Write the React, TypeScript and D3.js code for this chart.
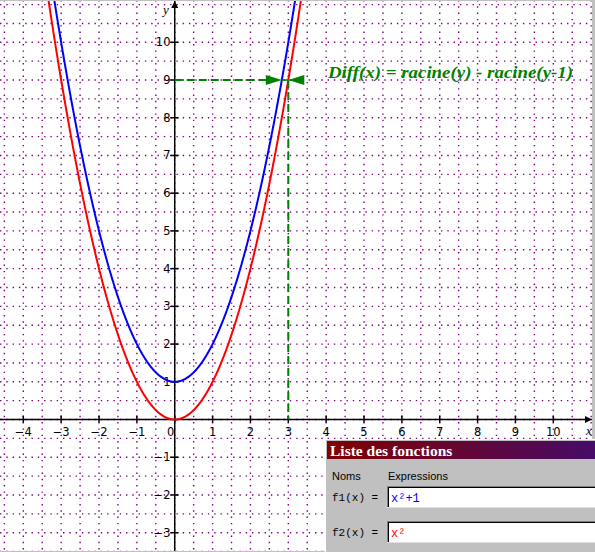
import React from "react";
import * as d3 from "d3";

const W = 595;
const H = 552;

const xTicks = [-4, -3, -2, -1, 0, 1, 2, 3, 4, 5, 6, 7, 8, 9, 10];
const yTicks = [-3, -2, -1, 1, 2, 3, 4, 5, 6, 7, 8, 9, 10];
const functionNames = ["f1(x) =", "f2(x) ="];
const functionExprs = ["x²+1", "x²"];
const functionColors = ["#0000ff", "#ff0000"];
const functionOffsets = [1, 0]; // f(x) = x² + offset
const markY = 9;
const annotation = "Diff(x) = racine(y) - racine(y-1)";

export default function App() {
  const x = d3.scaleLinear().domain([-4, 10]).range([23.3, 553.3]);
  const y = d3.scaleLinear().domain([-3, 10]).range([532.7, 42.3]);
  const x0 = x(0);
  const y0 = y(0);

  const gridX = d3.range(-4.5, 11.01, 0.5);
  const gridY = d3.range(-3.5, 11.01, 0.5);

  const samples = d3.range(-3.6, 3.6001, 0.01);
  const line = d3
    .line<[number, number]>()
    .x((d) => x(d[0]))
    .y((d) => y(d[1]));

  const xLeft = x(Math.sqrt(markY - 1));
  const xRight = x(Math.sqrt(markY));
  const yMark = y(markY);

  const panelX = 325;
  const panelY = 439;

  return (
    <svg
      width={W}
      height={H}
      style={{ position: "absolute", left: 0, top: 0, background: "#fff" }}
      fontFamily="DejaVu Sans"
    >
      <defs>
        <linearGradient id="title" x1="0" x2="1" y1="0" y2="0">
          <stop offset="0" stopColor="#800000" />
          <stop offset="1" stopColor="#460c68" />
        </linearGradient>
        <clipPath id="plot">
          <rect x={0} y={0} width={W} height={H} />
        </clipPath>
      </defs>
      <rect x={0} y={0} width={W} height={H} fill="#fff" />
      {/* grid */}
      {gridX.map((g) => (
        <line
          key={"gx" + g}
          x1={x(g)}
          x2={x(g)}
          y1={0}
          y2={H}
          stroke="#800080"
          strokeWidth={1.4}
          strokeDasharray="1.4,4.9"
        />
      ))}
      {gridY.map((g) => (
        <line
          key={"gy" + g}
          x1={0}
          x2={W}
          y1={y(g)}
          y2={y(g)}
          stroke="#800080"
          strokeWidth={1.4}
          strokeDasharray="1.4,4.9"
        />
      ))}
      {/* axes */}
      <line x1={0} x2={592} y1={y0} y2={y0} stroke="#000" strokeWidth={1.5} />
      <line x1={x0} x2={x0} y1={1} y2={H} stroke="#000" strokeWidth={1.5} />
      <path d={`M${592},${y0} l-7,-3.5 l0,7 z`} fill="#000" />
      <path d={`M${x0},${1} l-3.5,7 l7,0 z`} fill="#000" />
      {xTicks.map((t) => (
        <g key={"xt" + t}>
          <line x1={x(t)} x2={x(t)} y1={y0 - 4} y2={y0 + 3} stroke="#000" strokeWidth={1.5} />
          <text
            x={t === 0 ? x(t) - 4 : x(t)}
            y={436}
            fontSize={11.5}
            textAnchor="middle"
            fill="#000"
          >
            {t < 0 ? "−" + Math.abs(t) : String(t)}
          </text>
        </g>
      ))}
      {yTicks.map((t) => (
        <g key={"yt" + t}>
          <line x1={x0 - 4} x2={x0 + 4} y1={y(t)} y2={y(t)} stroke="#000" strokeWidth={1.5} />
          <text x={170.5} y={y(t) + 4} fontSize={11.5} textAnchor="end" fill="#000">
            {t < 0 ? "−" + Math.abs(t) : String(t)}
          </text>
        </g>
      ))}
      <text x={163} y={14} fontSize={13} fontStyle="italic" fontFamily="Liberation Serif">
        y
      </text>
      <text x={586} y={435} fontSize={13} fontStyle="italic" fontFamily="Liberation Serif">
        x
      </text>
      {/* curves */}
      <g clipPath="url(#plot)">
        {functionOffsets
          .map((off, i) => ({ off, i }))
          .reverse()
          .map(({ off, i }) => (
            <path
              key={"c" + i}
              d={line(samples.map((s) => [s, s * s + off] as [number, number])) || ""}
              fill="none"
              stroke={functionColors[i]}
              strokeWidth={2}
            />
          ))}
      </g>
      {/* green construction */}
      <line x1={x0} x2={xLeft - 16} y1={yMark} y2={yMark} stroke="#008000" strokeWidth={2} strokeDasharray="8,4" />
      <line x1={xRight} x2={xRight} y1={yMark} y2={y0} stroke="#008000" strokeWidth={2} strokeDasharray="8,4" />
      <line x1={xLeft} x2={xRight} y1={yMark} y2={yMark} stroke="#008000" strokeWidth={1.5} />
      <path d={`M${xLeft},${yMark} l-16,-5 l0,10 z`} fill="#008000" />
      <path d={`M${xRight},${yMark} l16,-5 l0,10 z`} fill="#008000" />
      <text
        x={328}
        y={78}
        fontSize={17}
        fontWeight="bold"
        fontStyle="italic"
        fontFamily="Liberation Serif"
        fill="#008000"
        textLength={245}
        lengthAdjust="spacingAndGlyphs"
      >
        {annotation}
      </text>
      {/* border */}
      <line x1={0} x2={W} y1={0.5} y2={0.5} stroke="#c0c0c0" />
      <line x1={W - 1.5} x2={W - 1.5} y1={0} y2={H} stroke="#c0c0c0" strokeWidth={3} />
      <line x1={0} x2={W} y1={H - 0.5} y2={H - 0.5} stroke="#c0c0c0" />
      {/* functions panel */}
      <rect x={panelX} y={panelY} width={W - panelX} height={H - panelY} fill="#c0c0c0" />
      <line x1={panelX + 0.5} x2={panelX + 0.5} y1={panelY} y2={H} stroke="#fff" />
      <line x1={panelX} x2={W} y1={panelY + 0.5} y2={panelY + 0.5} stroke="#fff" />
      <rect x={panelX + 2} y={panelY + 2} width={W - panelX - 2} height={18} fill="url(#title)" />
      <text
        x={330}
        y={455.5}
        fontSize={15.5}
        fontWeight="bold"
        fontFamily="Liberation Serif"
        fill="#fff"
      >
        Liste des fonctions
      </text>
      <text x={332} y={480} fontSize={11} fontFamily="Liberation Sans" fill="#000">
        Noms
      </text>
      <text x={388} y={480} fontSize={11} fontFamily="Liberation Sans" fill="#000">
        Expressions
      </text>
      {functionNames.map((name, i) => {
        const by = 486 + i * 35;
        return (
          <g key={"f" + i}>
            <text x={332} y={by + 15} fontSize={11} fontFamily="Liberation Mono" fill="#000">
              {name}
            </text>
            <rect x={387} y={by} width={W - 387} height={22} fill="#fff" />
            <line x1={387} x2={W} y1={by + 0.5} y2={by + 0.5} stroke="#808080" />
            <line x1={388} x2={W} y1={by + 1.5} y2={by + 1.5} stroke="#000" />
            <line x1={387.5} x2={387.5} y1={by} y2={by + 22} stroke="#808080" />
            <line x1={388.5} x2={388.5} y1={by + 1} y2={by + 21} stroke="#000" />
            <line x1={387} x2={W} y1={by + 21.5} y2={by + 21.5} stroke="#dfdfdf" />
            <text x={391} y={by + 16} fontSize={12} fontFamily="Liberation Mono" fill={functionColors[i]}>
              {functionExprs[i]}
            </text>
          </g>
        );
      })}
    </svg>
  );
}
